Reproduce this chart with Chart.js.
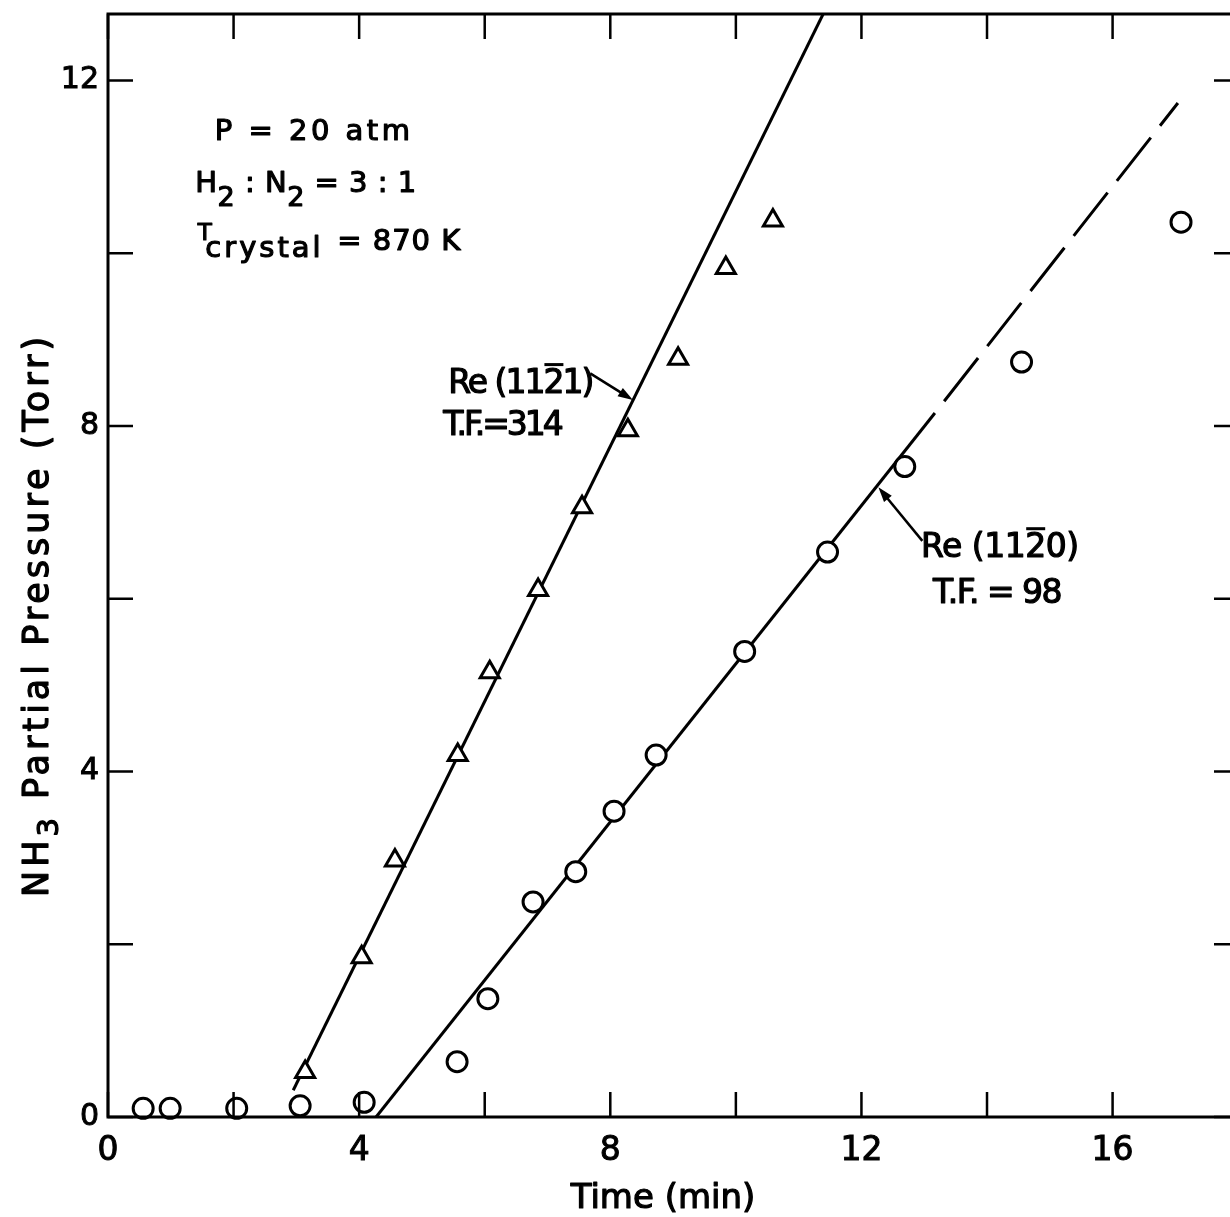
<!DOCTYPE html>
<html>
<head>
<meta charset="utf-8">
<title>NH3 partial pressure vs time</title>
<script src="https://cdn.jsdelivr.net/npm/chart.js@4/dist/chart.umd.min.js"></script>
<style>
  html, body { margin: 0; padding: 0; background: #fff; overflow: hidden; }
  #chart { display: block; }
</style>
</head>
<body>
<canvas id="chart" width="1230" height="1217"></canvas>
<script>
// Re(11-21), triangles
const timeTri = [3.14, 4.04, 4.57, 5.57, 6.08, 6.85, 7.55, 8.28, 9.08, 9.84, 10.59];
const nh3Tri = [0.52, 1.85, 2.97, 4.19, 5.15, 6.10, 7.06, 7.95, 8.78, 9.83, 10.38];

// Re(11-20), circles
const timeCirc = [0.56, 0.99, 2.05, 3.06, 4.08, 5.56, 6.05, 6.77, 7.45, 8.06, 8.73, 10.14, 11.46, 12.69, 14.55, 17.09];
const nh3Circ = [0.10, 0.10, 0.10, 0.13, 0.17, 0.64, 1.37, 2.49, 2.84, 3.54, 4.19, 5.39, 6.54, 7.53, 8.74, 10.36];

// fitted straight lines (end points)
const fitTriX = [2.95, 11.39];
const fitTriY = [0.31, 12.77];
const fitCircX = [4.27, 13.17];
const fitCircY = [0, 8.15];
const fitCircDashX = [13.17, 17.04];
const fitCircDashY = [8.15, 11.74];

// axes (visible part of the original frame; the right edge is cut off)
const xRange = [0, 17.87];
const yRange = [0, 12.77];
const xTickLabels = [0, 4, 8, 12, 16];
const yTickLabels = [0, 4, 8, 12];

const FONT = '"DejaVu Sans", sans-serif';
const pts = (xs, ys) => xs.map((x, i) => ({ x: x, y: ys[i] }));

// draw a row of text pieces (for subscripts / overbars), slightly thickened
function drawRuns(ctx, runs, x, y, spacing) {
    ctx.letterSpacing = spacing + 'px';
    ctx.lineWidth = 1.2;
    ctx.lineJoin = 'round';
    let cx = x;
    runs.forEach(r => {
        ctx.font = r.size + 'px ' + FONT;
        const w = ctx.measureText(r.t).width;
        ctx.fillText(r.t, cx, y + (r.dy || 0));
        ctx.strokeText(r.t, cx, y + (r.dy || 0));
        if (r.bar) {
            ctx.fillRect(cx + 1, y - r.size * 0.73 - 6, w - spacing - 2, 3);
        }
        cx += w;
    });
    return cx - x;
}

function runsWidth(ctx, runs, spacing) {
    ctx.letterSpacing = spacing + 'px';
    let w = 0;
    runs.forEach(r => {
        ctx.font = r.size + 'px ' + FONT;
        w += ctx.measureText(r.t).width;
    });
    return w;
}

function arrow(ctx, x1, y1, x2, y2) {
    const a = Math.atan2(y2 - y1, x2 - x1);
    ctx.lineWidth = 2.5;
    ctx.beginPath();
    ctx.moveTo(x1, y1);
    ctx.lineTo(x2 - 6 * Math.cos(a), y2 - 6 * Math.sin(a));
    ctx.stroke();
    ctx.beginPath();
    ctx.moveTo(x2, y2);
    ctx.lineTo(x2 - 15 * Math.cos(a) + 5 * Math.sin(a), y2 - 15 * Math.sin(a) - 5 * Math.cos(a));
    ctx.lineTo(x2 - 15 * Math.cos(a) - 5 * Math.sin(a), y2 - 15 * Math.sin(a) + 5 * Math.cos(a));
    ctx.closePath();
    ctx.fill();
}

// frame (left, top, bottom) with inward ticks; the right axis sits just off the picture
const framePlugin = {
    id: 'frame',
    afterDraw(chart) {
        const { ctx, chartArea: a, scales: { x, y } } = chart;
        ctx.save();
        ctx.strokeStyle = '#000';
        ctx.lineWidth = 3;
        ctx.beginPath();
        ctx.moveTo(a.right + 2, a.top);
        ctx.lineTo(a.left, a.top);
        ctx.lineTo(a.left, a.bottom);
        ctx.lineTo(a.right + 2, a.bottom);
        ctx.stroke();
        ctx.lineWidth = 2.5;
        const len = 25;
        ctx.beginPath();
        x.ticks.forEach(t => {
            if (t.value % 2 !== 0) return;
            const p = x.getPixelForValue(t.value);
            ctx.moveTo(p, a.bottom); ctx.lineTo(p, a.bottom - len);
            ctx.moveTo(p, a.top); ctx.lineTo(p, a.top + len);
        });
        y.ticks.forEach(t => {
            if (t.value % 2 !== 0) return;
            const p = y.getPixelForValue(t.value);
            ctx.moveTo(a.left, p); ctx.lineTo(a.left + len, p);
            ctx.moveTo(a.right + 2, p); ctx.lineTo(a.right - 16, p);
        });
        ctx.stroke();
        ctx.restore();
    }
};

// text annotations and axis titles
const labelPlugin = {
    id: 'labels',
    afterDraw(chart) {
        const { ctx, scales: { x, y } } = chart;
        const px = v => x.getPixelForValue(v);
        const py = v => y.getPixelForValue(v);
        ctx.save();
        ctx.fillStyle = '#000';
        ctx.strokeStyle = '#000';
        ctx.textAlign = 'left';
        ctx.textBaseline = 'alphabetic';

        // run conditions
        drawRuns(ctx, [{ t: 'P = 20 atm', size: 29 }], px(1.70), py(11.31), 3.5);
        drawRuns(ctx, [
            { t: 'H', size: 29 }, { t: '2', size: 27, dy: 14 },
            { t: ' : N', size: 29 }, { t: '2', size: 27, dy: 14 },
            { t: ' = 3 : 1', size: 29 }
        ], px(1.39), py(10.71), 0.5);
        drawRuns(ctx, [{ t: 'T', size: 23 }], px(1.43), py(10.15), 0);
        drawRuns(ctx, [{ t: 'crystal', size: 29 }], px(1.55), py(9.96), 3);
        drawRuns(ctx, [{ t: '= 870 K', size: 29 }], px(3.65), py(10.04), 1);

        // curve labels
        drawRuns(ctx, [
            { t: 'Re (11', size: 33 }, { t: '2', size: 33, bar: true }, { t: '1)', size: 33 }
        ], px(5.42), py(8.38), -2);
        drawRuns(ctx, [{ t: 'T.F.=314', size: 33 }], px(5.34), py(7.90), -3);
        drawRuns(ctx, [
            { t: 'Re (11', size: 33 }, { t: '2', size: 33, bar: true }, { t: '0)', size: 33 }
        ], px(12.95), py(6.48), -0.5);
        drawRuns(ctx, [{ t: 'T.F. = 98', size: 33 }], px(13.14), py(5.95), -1.5);

        ctx.letterSpacing = '0px';
        arrow(ctx, px(7.68), py(8.61), px(8.36), py(8.30));
        arrow(ctx, px(12.97), py(6.67), px(12.27), py(7.29));

        // x axis title
        const xt = [{ t: 'Time (min)', size: 34 }];
        const xw = runsWidth(ctx, xt, 0);
        drawRuns(ctx, xt, 663 - xw / 2, 1208, 0);

        // y axis title, rotated
        const yt = [
            { t: 'NH', size: 35 }, { t: '3', size: 29, dy: 10 },
            { t: ' Partial Pressure (Torr)', size: 35 }
        ];
        ctx.translate(48, 615);
        ctx.rotate(-Math.PI / 2);
        const yw = runsWidth(ctx, yt, 4);
        drawRuns(ctx, yt, -yw / 2, 0, 4);
        ctx.restore();
    }
};

// pin the plot area: no automatic label padding
const noPad = s => { s.paddingTop = 0; s.paddingBottom = 0; s.paddingLeft = 0; s.paddingRight = 0; };

const ctx = document.getElementById('chart').getContext('2d');
const chart = new Chart(ctx, {
    type: 'scatter',
    data: {
        datasets: [
            {
                label: 'Re(11-21)',
                data: pts(timeTri, nh3Tri),
                pointStyle: 'triangle',
                pointRadius: 11,
                borderWidth: 3,
                borderColor: '#000',
                backgroundColor: '#fff',
                clip: false
            },
            {
                label: 'Re(11-20)',
                data: pts(timeCirc, nh3Circ),
                pointStyle: 'circle',
                pointRadius: 10,
                borderWidth: 3,
                borderColor: '#000',
                backgroundColor: '#fff',
                clip: false
            },
            {
                label: 'fit 11-21',
                data: pts(fitTriX, fitTriY),
                showLine: true,
                pointRadius: 0,
                borderWidth: 3,
                borderColor: '#000'
            },
            {
                label: 'fit 11-20',
                data: pts(fitCircX, fitCircY),
                showLine: true,
                pointRadius: 0,
                borderWidth: 3,
                borderColor: '#000'
            },
            {
                label: 'fit 11-20 extrapolated',
                data: pts(fitCircDashX, fitCircDashY),
                showLine: true,
                pointRadius: 0,
                borderWidth: 3,
                borderColor: '#000',
                borderDash: [55, 15],
                borderDashOffset: 55
            }
        ]
    },
    options: {
        responsive: false,
        animation: false,
        events: [],
        layout: { autoPadding: false, padding: { top: 14, right: 0, left: 0, bottom: 0 } },
        plugins: {
            legend: { display: false },
            tooltip: { enabled: false }
        },
        scales: {
            x: {
                type: 'linear',
                min: xRange[0],
                max: xRange[1],
                afterFit: s => { s.height = 100; noPad(s); },
                grid: { display: false, drawTicks: false },
                border: { display: false },
                ticks: {
                    stepSize: 2,
                    includeBounds: false,
                    autoSkip: false,
                    maxRotation: 0,
                    padding: 15,
                    color: '#000',
                    textStrokeColor: '#000',
                    textStrokeWidth: 1,
                    font: { family: FONT, size: 33 },
                    callback: v => xTickLabels.includes(v) ? String(v) : ''
                }
            },
            y: {
                type: 'linear',
                min: yRange[0],
                max: yRange[1],
                afterFit: s => { s.width = 108; noPad(s); },
                grid: { display: false, drawTicks: false },
                border: { display: false },
                ticks: {
                    stepSize: 2,
                    includeBounds: false,
                    autoSkip: false,
                    padding: 9,
                    color: '#000',
                    textStrokeColor: '#000',
                    textStrokeWidth: 1,
                    font: { family: FONT, size: 30 },
                    callback: v => yTickLabels.includes(v) ? String(v) : ''
                }
            }
        }
    },
    plugins: [framePlugin, labelPlugin]
});
</script>
</body>
</html>
